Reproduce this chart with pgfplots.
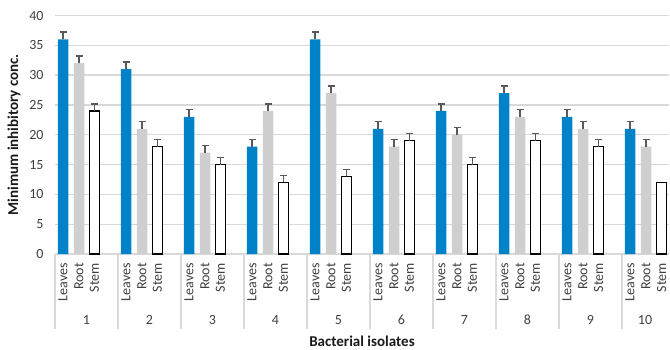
\documentclass[border=0pt]{standalone}
\usepackage{pgfplots}
\pgfplotsset{compat=1.18}
\usepackage{fontspec}
\setmainfont{Carlito}
\definecolor{leafblue}{RGB}{0,130,200}
\definecolor{rootgray}{RGB}{208,207,207}
\definecolor{gridgray}{RGB}{217,217,217}
\definecolor{errgray}{RGB}{89,89,89}
\definecolor{txt}{RGB}{64,64,64}
\begin{document}
\begin{tikzpicture}
\useasboundingbox (0,0) rectangle (670pt,349pt);
\begin{axis}[
  at={(55pt,95pt)}, anchor=south west,
  scale only axis, width=614pt, height=238.5pt,
  xmin=0, xmax=9.746, ymin=0, ymax=40,
  clip=false,
  axis line style={draw=none},
  ymajorgrids, grid style={gridgray, line width=1.3pt},
  ytick={0,5,...,40},
  major tick length=0pt,
  /pgf/number format/assume math mode=true,
  yticklabel style={font=\fontsize{14}{16}\selectfont, text=txt, xshift=-8pt},
  xtick={0.127,0.381,0.627,1.127,1.381,1.627,2.127,2.381,2.627,3.127,3.381,3.627,4.127,4.381,4.627,5.127,5.381,5.627,6.127,6.381,6.627,7.127,7.381,7.627,8.127,8.381,8.627,9.127,9.381,9.627},
  xticklabels={Leaves,Root,Stem,Leaves,Root,Stem,Leaves,Root,Stem,Leaves,Root,Stem,Leaves,Root,Stem,Leaves,Root,Stem,Leaves,Root,Stem,Leaves,Root,Stem,Leaves,Root,Stem,Leaves,Root,Stem},
  xticklabel style={yshift=-9pt, rotate=90, anchor=east, inner sep=0pt, font=\fontsize{14}{16}\selectfont, text=txt},
  ylabel={Minimum inhibitory conc.},
  xlabel={Bacterial isolates},
  every axis y label/.style={at={(axis description cs:0,0.5)}, xshift=-41pt, rotate=90, anchor=center, font=\bfseries\fontsize{15}{17}\selectfont, text=black!90},
  every axis x label/.style={at={(axis description cs:0.5,0)}, anchor=center, yshift=-87pt, font=\bfseries\fontsize{15}{17}\selectfont, text=black!90},
  error bars/y dir=plus, error bars/y explicit,
  error bars/error bar style={line width=1.5pt, errgray},
  error bars/error mark options={rotate=90, mark size=3.5pt, line width=1.5pt, errgray},
]
% Leaves
\addplot[ybar, bar width=10.5pt, fill=leafblue, draw=none] coordinates {
 (0.127,36) +- (0,1.2) (1.127,31) +- (0,1.2) (2.127,23) +- (0,1.2) (3.127,18) +- (0,1.2) (4.127,36) +- (0,1.2)
 (5.127,21) +- (0,1.2) (6.127,24) +- (0,1.2) (7.127,27) +- (0,1.2) (8.127,23) +- (0,1.2) (9.127,21) +- (0,1.2)};
% Root
\addplot[ybar, bar width=10.5pt, fill=rootgray, draw=none] coordinates {
 (0.381,32) +- (0,1.2) (1.381,21) +- (0,1.2) (2.381,17) +- (0,1.2) (3.381,24) +- (0,1.2) (4.381,27) +- (0,1.2)
 (5.381,18) +- (0,1.2) (6.381,20) +- (0,1.2) (7.381,23) +- (0,1.2) (8.381,21) +- (0,1.2) (9.381,18) +- (0,1.2)};
% Stem
\addplot[ybar, bar width=9.5pt, fill=white, draw=black, line width=1.4pt] coordinates {
 (0.627,24) +- (0,1.2) (1.627,18) +- (0,1.2) (2.627,15) +- (0,1.2) (3.627,12) +- (0,1.2) (4.627,13) +- (0,1.2)
 (5.627,19) +- (0,1.2) (6.627,15) +- (0,1.2) (7.627,19) +- (0,1.2) (8.627,18) +- (0,1.2)};
\addplot[ybar, bar width=9.5pt, fill=white, draw=black, line width=1.4pt, error bars/y dir=none] coordinates {(9.627,12)};
% separators
\pgfplotsinvokeforeach{0,1,2,3,4,5,6,7,8,9}{
  \draw[gridgray, line width=1.2pt] (axis cs:#1,0) -- ++(0pt,-75pt);
}
\node[font=\fontsize{14}{16}\selectfont, text=txt, yshift=-66pt] at (axis cs:0.5,0) {1};
\node[font=\fontsize{14}{16}\selectfont, text=txt, yshift=-66pt] at (axis cs:1.5,0) {2};
\node[font=\fontsize{14}{16}\selectfont, text=txt, yshift=-66pt] at (axis cs:2.5,0) {3};
\node[font=\fontsize{14}{16}\selectfont, text=txt, yshift=-66pt] at (axis cs:3.5,0) {4};
\node[font=\fontsize{14}{16}\selectfont, text=txt, yshift=-66pt] at (axis cs:4.5,0) {5};
\node[font=\fontsize{14}{16}\selectfont, text=txt, yshift=-66pt] at (axis cs:5.5,0) {6};
\node[font=\fontsize{14}{16}\selectfont, text=txt, yshift=-66pt] at (axis cs:6.5,0) {7};
\node[font=\fontsize{14}{16}\selectfont, text=txt, yshift=-66pt] at (axis cs:7.5,0) {8};
\node[font=\fontsize{14}{16}\selectfont, text=txt, yshift=-66pt] at (axis cs:8.5,0) {9};
\node[font=\fontsize{14}{16}\selectfont, text=txt, yshift=-66pt] at (axis cs:9.365,0) {10};
\end{axis}
\end{tikzpicture}
\end{document}
